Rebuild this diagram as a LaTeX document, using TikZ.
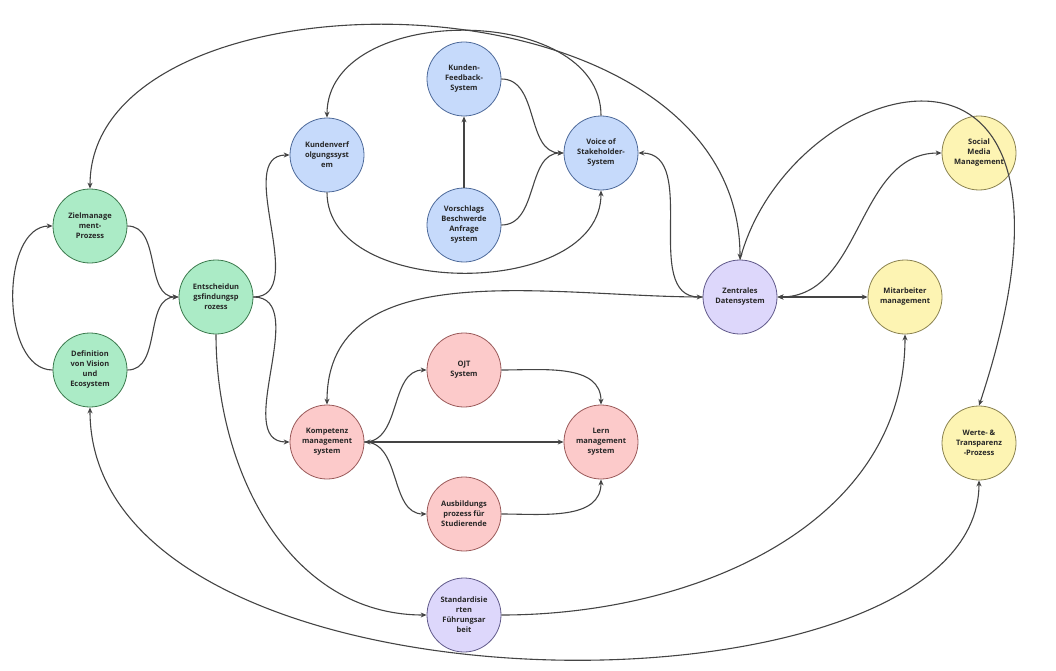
\documentclass[tikz,border=0pt]{standalone}
\usepackage{fontspec}
\setmainfont{Open Sans}
\usetikzlibrary{arrows.meta}
\definecolor{gf}{HTML}{ABEBC6}\definecolor{gb}{HTML}{3C7A4E}
\definecolor{bf}{HTML}{C6DAFB}\definecolor{bb}{HTML}{4E6A9A}
\definecolor{pf}{HTML}{DDD7FB}\definecolor{pb}{HTML}{615A8A}
\definecolor{yf}{HTML}{FDF4B3}\definecolor{yb}{HTML}{8A8250}
\definecolor{rf}{HTML}{FCCACA}\definecolor{rb}{HTML}{9A5A5A}
\definecolor{ln}{HTML}{444444}
\tikzset{
 nd/.style={circle,minimum size=74pt,inner sep=0pt,align=center,font=\fontsize{7.5}{10}\selectfont\bfseries,line width=0.8pt,text=black!85},
 ngreen/.style={nd,fill=gf,draw=gb}, nblue/.style={nd,fill=bf,draw=bb},
 npurple/.style={nd,fill=pf,draw=pb}, nyellow/.style={nd,fill=yf,draw=yb},
 nred/.style={nd,fill=rf,draw=rb},
 edge1/.style={draw=ln,line width=1.1pt,-{Stealth[length=6pt,width=5pt]}},
 edge2/.style={draw=ln,line width=1.1pt,{Stealth[length=6pt,width=5pt]}-{Stealth[length=6pt,width=5pt]}}
}
\begin{document}
\begin{tikzpicture}[x=1pt,y=-1pt]
\useasboundingbox (0,0) rectangle (1056,671);
\node[ngreen] (ziel) at (90,226) {Zielmanage\\ment-\\Prozess};
\node[ngreen] (def) at (90,370) {Definition\\von Vision\\und\\Ecosystem};
\node[ngreen] (ent) at (216,297) {Entscheidun\\gsfindungsp\\rozess};
\node[nblue] (kv) at (327,155) {Kundenverf\\olgungssyst\\em};
\node[nblue] (kf) at (464,79) {Kunden-\\Feedback-\\System};
\node[nblue] (vo) at (464,225) {Vorschlags\\Beschwerde\\Anfrage\\system};
\node[nblue] (vs) at (601,153) {Voice of\\Stakeholder-\\System};
\node[npurple] (zd) at (740,297) {Zentrales\\Datensystem};
\node[nyellow] (sm) at (979,153) {Social\\Media\\Management};
\node[nyellow] (mm) at (905,297) {Mitarbeiter\\management};
\node[nyellow] (wt) at (979,443) {Werte- \&\\Transparenz\\-Prozess};
\node[nred] (km) at (327,442) {Kompetenz\\management\\system};
\node[nred] (ojt) at (464,370) {OJT\\System};
\node[nred] (lm) at (601,442) {Lern\\management\\system};
\node[nred] (ab) at (464,514) {Ausbildungs\\prozess für\\Studierende};
\node[npurple] (sf) at (464,615) {Standardisie\\rten\\Führungsar\\beit};
\draw[edge1] (ziel.east) to[out=0,in=180] (ent.west);
\draw[edge1] (def.east) to[out=0,in=180] (ent.west);
\draw[edge1] (def.west) .. controls (0,370) and (0,226) .. (ziel.west);
\draw[edge1] (ent.east) to[out=0,in=180] (kv.west);
\draw[edge1] (ent.east) to[out=0,in=180] (km.west);
\draw[edge1] (ent.south) to[out=-90,in=180] (sf.west);
\draw[edge1] (kv.south) .. controls (327,300) and (601,300) .. (vs.south);
\draw[edge1] (vs.north) .. controls (601,2) and (327,2) .. (kv.north);
\draw[edge1] (vo.north) -- (kf.south);
\draw[edge1] (kf.east) to[out=0,in=180] (vs.west);
\draw[edge1] (vo.east) to[out=0,in=180] (vs.west);
\draw[edge2] (vs.east) to[out=0,in=180] (zd.west);
\draw[edge1] (zd.west) to[out=180,in=90] (km.north);
\draw[edge2] (ziel.north) .. controls (90,-40) and (740,-40) .. (zd.north);
\draw[edge1] (zd.north) .. controls (790,70) and (1120,-20) .. (wt.north);
\draw[edge2] (zd.east) to[out=0,in=180] (sm.west);
\draw[edge2] (zd.east) -- (mm.west);
\draw[edge1] (km.east) to[out=0,in=180] (ojt.west);
\draw[edge1] (km.east) to[out=0,in=180] (ab.west);
\draw[edge2] (km.east) -- (lm.west);
\draw[edge1] (ojt.east) to[out=0,in=90] (lm.north);
\draw[edge1] (ab.east) to[out=0,in=-90] (lm.south);
\draw[edge1] (sf.east) to[out=0,in=-90] (mm.south);
\draw[edge2] (wt.south) .. controls (979,730) and (90,730) .. (def.south);
\end{tikzpicture}
\end{document}
